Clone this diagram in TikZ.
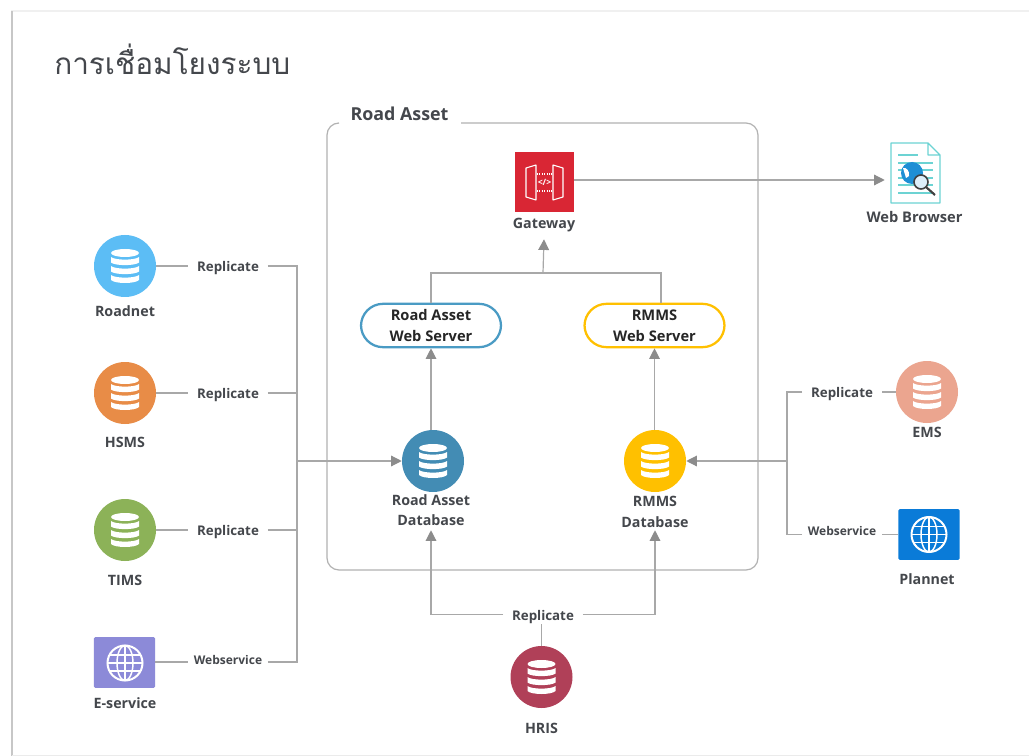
\documentclass[tikz,border=0pt]{standalone}
\usepackage{fontspec}
\setmainfont{Open Sans}
\newfontfamily\thaifont[Script=Thai]{Loma}
\usetikzlibrary{arrows.meta}
\definecolor{conn}{HTML}{A8A8A8}
\definecolor{tipc}{HTML}{8C8C8C}
\definecolor{txt}{HTML}{44474C}
\definecolor{cRoadnet}{HTML}{5CBDF5}
\definecolor{cHsms}{HTML}{E88C47}
\definecolor{cTims}{HTML}{8CB258}
\definecolor{cEserv}{HTML}{8C8AD8}
\definecolor{cEms}{HTML}{EBA58F}
\definecolor{cPlan}{HTML}{0A7BD8}
\definecolor{cHris}{HTML}{B04058}
\definecolor{cRa}{HTML}{438CB4}
\definecolor{cRm}{HTML}{FFC000}
\definecolor{cGate}{HTML}{D92634}
\definecolor{cDoc}{HTML}{6CD3D3}
\definecolor{cGlobe}{HTML}{1E8FD5}
\definecolor{cSrv}{HTML}{4A9BC4}
\tikzset{
  x=0.75pt,y=-0.75pt,
  wire/.style={draw=conn,line width=0.9pt},
  arrowwire/.style={wire,-{Triangle[length=8pt,width=8pt,color=tipc]}},
  lab/.style={font=\fontsize{10.7}{15.5}\selectfont\bfseries,text=txt,align=center,inner sep=0pt},
  edgelab/.style={font=\fontsize{10}{11}\selectfont\bfseries,text=txt,inner sep=0pt,minimum width=59.5pt,text height=11pt,text depth=2.5pt},
  dbdisk/.style={circle,minimum size=46.5pt,inner sep=0pt,fill=#1},
  websq/.style={minimum width=46pt,minimum height=38pt,inner sep=0pt,fill=#1,rounded corners=1pt},
  server/.style={draw=#1,line width=1.7pt,rounded corners=16.5pt,minimum width=105pt,minimum height=32.5pt,inner sep=0pt,fill=white,font=\fontsize{11}{15.5}\selectfont\bfseries,text=black!85,align=center},
}
\newcommand{\dbicon}[1]{%
  \begin{scope}[shift={(#1)}]
    \fill[white] (0,-13) ellipse[x radius=14,y radius=4];
    \fill[white] (-14,-9) .. controls (-10,-5.5) and (10,-5.5) .. (14,-9) -- (14,-3.5) .. controls (10,0) and (-10,0) .. (-14,-3.5) -- cycle;
    \fill[white] (-14,0) .. controls (-10,3.5) and (10,3.5) .. (14,0) -- (14,5.5) .. controls (10,9) and (-10,9) .. (-14,5.5) -- cycle;
    \fill[white] (-14,9) .. controls (-10,12.5) and (10,12.5) .. (14,9) -- (14,14) .. controls (10,18) and (-10,18) .. (-14,14) -- cycle;
  \end{scope}}
\newcommand{\globeicon}[1]{%
  \begin{scope}[shift={(#1)}]
    \draw[white,line width=1.5pt] (0,0) circle[radius=17.5];
    \draw[white,line width=1.1pt] (0,0) ellipse[x radius=8,y radius=17.5];
    \draw[white,line width=1.1pt] (-17.5,0) -- (17.5,0) (0,-17.5) -- (0,17.5);
    \draw[white,line width=1.1pt] (-15,-8) -- (15,-8) (-15,8) -- (15,8);
  \end{scope}}
\begin{document}
\begin{tikzpicture}
\useasboundingbox (0,0) rectangle (1029,756);
\fill[white] (0,0) rectangle (1029,756);
% page edge
\fill[black!6] (11,10.5) rectangle (1029,12);
\fill[black!22] (10.5,11) rectangle (12.5,756);
\fill[black!8] (12,754.5) rectangle (1029,755.5);
% title
\node[anchor=west,inner sep=0pt,text=txt,font=\thaifont\fontsize{22.3}{26}\selectfont] (title) at (54,59.5) {การเชื่อมโยงระบบ};
% frame
\node[inner sep=0pt,text=txt,font=\fontsize{13.4}{15}\selectfont\bfseries] (frametitle) at (399.5,114) {Road Asset};
\draw[draw=black!30,line width=0.9pt] (339,123) arc[start angle=90,end angle=180,x radius=12,y radius=-12] -- (327,558) arc[start angle=180,end angle=270,x radius=12,y radius=-12] -- (746,570) arc[start angle=270,end angle=360,x radius=12,y radius=-12] -- (758,135) arc[start angle=0,end angle=90,x radius=12,y radius=-12] -- (461,123);
% disks
\node[dbdisk=cRoadnet] (roadnet) at (125,266) {};
\node[dbdisk=cHsms] (hsms) at (125,393) {};
\node[dbdisk=cTims] (tims) at (125,530) {};
\node[websq=cEserv] (eserv) at (124.5,662.5) {};
\node[dbdisk=cEms] (ems) at (927,392) {};
\node[websq=cPlan] (plan) at (929,534.5) {};
\node[dbdisk=cHris] (hris) at (541.5,677) {};
\node[dbdisk=cRa] (radb) at (433,461) {};
\node[dbdisk=cRm] (rmdb) at (655,461) {};
\dbicon{125,266} \dbicon{125,393} \dbicon{125,530} \dbicon{927,392} \dbicon{541.5,677} \dbicon{433,461} \dbicon{655,461}
\globeicon{125,663} \globeicon{929,534.5}
% servers
\node[server=cSrv] (raweb) at (431,325.5) {Road Asset\\Web Server};
\node[server=cRm] (rmweb) at (654.5,325.5) {RMMS\\Web Server};
% gateway
\node[minimum size=44.5pt,inner sep=0pt,fill=cGate] (gate) at (544.5,182) {};
\begin{scope}[white,line width=0.8pt]
  \draw[line join=round] (526,168) -- (536,165) -- (536,200) -- (526,197) -- cycle;
  \draw[line join=round] (563,168) -- (553,165) -- (553,200) -- (563,197) -- cycle;
  \draw[densely dotted] (537,174) -- (552,174) (537,191) -- (552,191);
\end{scope}
\node[inner sep=0pt,text=white,font=\fontsize{6.5}{7}\selectfont\bfseries] (code) at (544.5,182.5) {</>};
% web browser document
\node[minimum width=45pt,minimum height=45pt,inner sep=0pt] (doc) at (915,180) {};
\draw[cDoc,line width=0.9pt,line join=round] (891,143) -- (928,143) -- (940,155) -- (940,203) -- (891,203) -- cycle (928,143) -- (928,155) -- (940,155);
\draw[cDoc,line width=0.8pt] (898,155) -- (918,155) (898,163) -- (933,163) (898,170) -- (933,170) (898,178) -- (933,178) (898,185) -- (933,185) (898,193) -- (933,193);
\fill[cGlobe] (912,173) circle[radius=11];
\fill[white] (903,168) .. controls (906,167) and (910,171) .. (909,176) -- (906,178) -- cycle;
\draw[black!75,line width=1.2pt,fill=cGlobe!15] (921,182) circle[radius=7];
\draw[black!75,line width=1.6pt] (926,187) -- (935,195);
% labels
\node[lab] (lroadnet) at (125,311) {Roadnet};
\node[lab] (lhsms) at (125,442) {HSMS};
\node[lab] (ltims) at (125,580) {TIMS};
\node[lab] (leserv) at (125,703) {E-service};
\node[lab] (lems) at (927,432) {EMS};
\node[lab] (lplan) at (927,579) {Plannet};
\node[lab] (lhris) at (541.5,728) {HRIS};
\node[lab,minimum height=21pt] (lgate) at (544,225) {Gateway};
\node[lab,font=\fontsize{11}{13}\selectfont\bfseries] (lbrowser) at (914.5,217) {Web Browser};
\node[lab,minimum height=30pt] (lradb) at (431,510) {Road Asset\\Database};
\node[lab,minimum height=27pt] (lrmdb) at (655,512) {RMMS\\Database};
% edge labels
\node[edgelab] (e1) at (228,266) {Replicate};
\node[edgelab] (e2) at (228,393) {Replicate};
\node[edgelab] (e3) at (228,530) {Replicate};
\node[edgelab] (e4) at (228,658.5) {\fontsize{9}{11}\selectfont Webservice};
\node[edgelab] (e5) at (842,392) {Replicate};
\node[edgelab] (e6) at (842,530) {\fontsize{9}{11}\selectfont Webservice};
\node[edgelab] (e7) at (543,614.5) {Replicate};
% junctions
\coordinate (busL) at (297,461);
\coordinate (busR) at (787,461);
\coordinate (gwJ) at (543,273);
\coordinate (gwR) at (661,273);
% left bus
\draw[wire] (roadnet.east) -- (e1.west);
\draw[wire] (hsms.east) -- (e2.west);
\draw[wire] (tims.east) -- (e3.west);
\draw[wire] (eserv.east |- 0,662) -- (e4.west |- 0,662);
\draw[wire] (e1.east) -| (busL);
\draw[wire] (e2.east) -- (e2.east -| busL);
\draw[wire] (e3.east) -- (e3.east -| busL);
\draw[wire] (e4.east |- 0,662) -| (busL);
\draw[arrowwire] (busL) -- (radb.west);
% right bus
\draw[wire] (ems.west) -- (e5.east);
\draw[wire] (plan.west) -- (e6.east |- plan.west);
\draw[wire] (e5.west) -| (busR);
\draw[wire] (e6.west |- plan.west) -| (busR);
\draw[arrowwire] (busR) -- (rmdb.east);
% hris
\draw[wire] (hris.north) -- (e7.south -| hris.north);
\draw[arrowwire] (e7.west) -| (lradb.south);
\draw[arrowwire] (e7.east) -| (lrmdb.south);
% database to server
\draw[arrowwire] (raweb.south |- radb.north) -- (raweb.south);
\draw[arrowwire] (rmweb.south |- rmdb.north) -- (rmweb.south);
% servers to gateway
\draw[wire] (raweb.north) |- (gwR) -- (gwR |- rmweb.north);
\draw[arrowwire] (gwJ) -- (lgate.south);
% gateway to browser
\draw[arrowwire] (gate.east |- doc.west) -- (doc.west);
\end{tikzpicture}
\end{document}
